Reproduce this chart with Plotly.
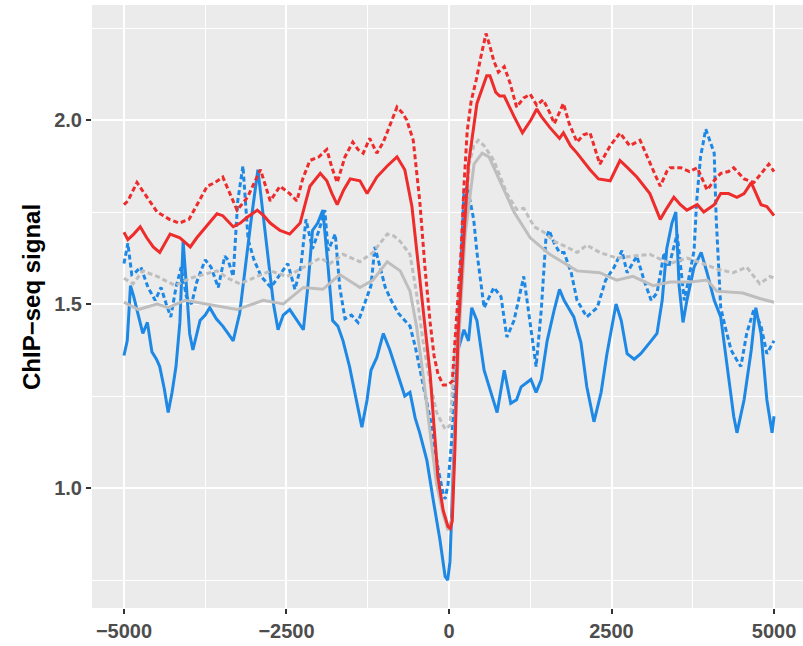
import plotly.graph_objects as go

# ---- data ----
red_dash_x = [-5000,-4940,-4800,-4650,-4490,-4300,-4150,-4000,-3850,-3720,-3600,-3480,-3370,-3260,-3100,-2900,-2750,-2600,-2450,-2340,-2250,-2140,-2000,-1880,-1800,-1720,-1600,-1480,-1400,-1320,-1220,-1110,-1010,-900,-800,-720,-650,-550,-450,-370,-290,-230,-170,-90,-20,50,120,185,230,280,340,420,500,570,630,690,760,850,940,1040,1150,1250,1350,1450,1550,1620,1760,1850,1970,2070,2170,2320,2480,2630,2780,2940,3100,3250,3350,3400,3570,3700,3820,3970,4100,4180,4300,4380,4540,4690,4850,4920,5000]
red_dash_y = [1.77,1.78,1.83,1.79,1.75,1.73,1.72,1.73,1.78,1.82,1.83,1.845,1.80,1.755,1.79,1.865,1.78,1.82,1.80,1.78,1.84,1.89,1.90,1.92,1.87,1.83,1.90,1.94,1.92,1.91,1.95,1.91,1.94,1.99,2.035,2.02,2.0,1.945,1.78,1.60,1.45,1.36,1.31,1.28,1.28,1.29,1.46,1.64,1.82,1.97,2.05,2.11,2.18,2.235,2.20,2.16,2.13,2.145,2.10,2.035,2.06,2.07,2.04,2.055,2.02,1.99,2.045,1.99,1.94,1.96,1.965,1.88,1.93,1.965,1.93,1.945,1.88,1.82,1.86,1.87,1.87,1.86,1.87,1.81,1.84,1.855,1.86,1.87,1.84,1.83,1.865,1.88,1.86]

red_solid_x = [-5000,-4940,-4850,-4750,-4650,-4550,-4450,-4290,-4140,-3980,-3880,-3780,-3570,-3480,-3320,-3210,-3110,-2950,-2850,-2750,-2600,-2450,-2290,-2200,-2140,-1980,-1880,-1800,-1720,-1620,-1520,-1370,-1260,-1110,-950,-800,-680,-570,-470,-400,-340,-290,-240,-170,-90,-15,20,50,90,140,200,250,300,430,580,630,720,780,850,1000,1130,1260,1350,1420,1550,1700,1760,1870,1970,2170,2300,2480,2630,2750,2890,3090,3250,3350,3460,3560,3660,3820,3920,4080,4180,4300,4430,4540,4650,4800,4890,5000]
red_solid_y = [1.695,1.675,1.69,1.71,1.68,1.655,1.64,1.69,1.68,1.655,1.68,1.70,1.745,1.74,1.71,1.72,1.735,1.755,1.74,1.72,1.70,1.69,1.72,1.78,1.82,1.855,1.835,1.80,1.77,1.81,1.84,1.835,1.80,1.845,1.875,1.90,1.865,1.765,1.60,1.48,1.40,1.31,1.19,1.03,0.94,0.895,0.89,0.91,1.10,1.42,1.60,1.73,1.88,2.045,2.12,2.12,2.075,2.065,2.065,2.01,1.965,2.0,2.03,2.01,1.98,1.95,1.965,1.93,1.91,1.865,1.84,1.835,1.89,1.87,1.845,1.80,1.73,1.76,1.79,1.77,1.755,1.77,1.75,1.77,1.80,1.80,1.79,1.80,1.83,1.77,1.765,1.74]

gray_dash_x = [-5000,-4860,-4710,-4490,-4210,-3980,-3780,-3570,-3400,-3220,-2950,-2750,-2490,-2240,-1980,-1830,-1630,-1370,-1170,-950,-850,-750,-600,-500,-400,-290,-190,-60,15,60,140,220,270,310,380,450,540,690,800,890,1040,1150,1310,1460,1620,1810,1970,2120,2320,2580,2830,3090,3400,3660,3910,4120,4370,4580,4780,4940,5000]
gray_dash_y = [1.57,1.555,1.59,1.575,1.55,1.57,1.58,1.59,1.57,1.555,1.575,1.59,1.575,1.60,1.625,1.61,1.635,1.615,1.64,1.69,1.685,1.67,1.635,1.53,1.40,1.285,1.205,1.16,1.17,1.285,1.465,1.645,1.765,1.88,1.93,1.945,1.93,1.89,1.84,1.80,1.757,1.76,1.71,1.695,1.67,1.655,1.64,1.66,1.64,1.625,1.63,1.635,1.61,1.625,1.61,1.595,1.585,1.60,1.555,1.575,1.57]

gray_solid_x = [-5000,-4780,-4490,-4320,-4060,-3720,-3400,-3260,-2860,-2550,-2240,-1940,-1680,-1370,-1170,-950,-750,-600,-500,-400,-290,-190,-90,-15,50,90,170,250,385,510,615,800,1000,1250,1550,1970,2320,2580,2830,3140,3400,3710,3970,4120,4520,4780,5000]
gray_solid_y = [1.505,1.485,1.50,1.49,1.51,1.50,1.49,1.485,1.51,1.50,1.545,1.54,1.58,1.545,1.565,1.615,1.59,1.535,1.44,1.31,1.15,1.01,0.93,0.885,0.92,1.15,1.465,1.69,1.88,1.91,1.90,1.83,1.75,1.68,1.635,1.59,1.585,1.565,1.575,1.55,1.56,1.56,1.565,1.535,1.53,1.515,1.505]

blue_solid_x = [-5000,-4950,-4900,-4850,-4780,-4710,-4640,-4570,-4500,-4450,-4380,-4320,-4260,-4200,-4140,-4090,-4040,-3990,-3940,-3880,-3830,-3750,-3680,-3580,-3480,-3400,-3320,-3220,-3150,-3050,-2940,-2870,-2780,-2700,-2630,-2550,-2450,-2350,-2240,-2170,-2100,-2020,-1940,-1860,-1790,-1710,-1630,-1530,-1420,-1340,-1260,-1200,-1110,-1010,-910,-830,-750,-680,-600,-520,-450,-340,-240,-140,-60,-20,15,60,100,130,230,300,350,430,540,640,740,850,950,1040,1110,1260,1340,1420,1510,1620,1700,1770,1920,2030,2120,2230,2340,2430,2570,2650,2740,2850,2950,3110,3200,3280,3350,3430,3490,3540,3600,3660,3770,3880,3970,4080,4180,4280,4380,4430,4540,4650,4720,4800,4890,4970,5000]
blue_solid_y = [1.36,1.40,1.55,1.52,1.47,1.42,1.45,1.37,1.35,1.33,1.27,1.205,1.26,1.33,1.45,1.67,1.55,1.42,1.375,1.42,1.455,1.47,1.49,1.46,1.44,1.42,1.40,1.475,1.58,1.72,1.865,1.76,1.62,1.50,1.43,1.47,1.485,1.46,1.43,1.55,1.70,1.72,1.755,1.60,1.455,1.44,1.40,1.33,1.24,1.165,1.24,1.32,1.355,1.42,1.375,1.33,1.285,1.25,1.26,1.19,1.15,1.075,0.965,0.86,0.76,0.75,0.80,1.01,1.25,1.37,1.43,1.40,1.49,1.455,1.32,1.265,1.205,1.32,1.23,1.24,1.275,1.295,1.26,1.295,1.40,1.485,1.54,1.51,1.465,1.395,1.275,1.18,1.26,1.365,1.50,1.455,1.365,1.35,1.365,1.40,1.42,1.51,1.65,1.72,1.75,1.55,1.45,1.51,1.60,1.64,1.585,1.51,1.465,1.33,1.195,1.15,1.24,1.375,1.49,1.42,1.24,1.15,1.195]

blue_dash_x = [-5000,-4940,-4880,-4830,-4740,-4630,-4520,-4430,-4350,-4280,-4200,-4120,-4040,-3960,-3880,-3750,-3660,-3550,-3450,-3400,-3320,-3250,-3170,-3090,-3000,-2890,-2740,-2580,-2480,-2370,-2280,-2200,-2100,-2000,-1910,-1860,-1750,-1680,-1600,-1500,-1400,-1300,-1200,-1140,-1060,-980,-890,-780,-680,-600,-520,-430,-350,-280,-170,-90,-60,-15,50,90,170,230,280,380,430,490,540,690,800,890,1000,1150,1280,1340,1420,1490,1540,1620,1700,1770,1880,1970,2120,2280,2410,2540,2660,2740,2890,3000,3110,3200,3310,3380,3510,3620,3700,3770,3810,3870,3950,4020,4080,4110,4150,4180,4260,4340,4420,4490,4580,4690,4800,4890,5000]
blue_dash_y = [1.61,1.665,1.58,1.585,1.60,1.545,1.51,1.545,1.50,1.465,1.545,1.60,1.52,1.50,1.56,1.62,1.60,1.545,1.63,1.62,1.575,1.78,1.875,1.675,1.62,1.575,1.545,1.585,1.61,1.54,1.60,1.73,1.65,1.70,1.755,1.645,1.69,1.545,1.46,1.47,1.45,1.50,1.55,1.655,1.60,1.545,1.51,1.475,1.455,1.44,1.385,1.31,1.24,1.18,1.055,0.985,0.97,1.01,1.15,1.33,1.555,1.80,1.82,1.73,1.64,1.565,1.49,1.545,1.52,1.41,1.455,1.575,1.40,1.33,1.485,1.675,1.70,1.665,1.64,1.64,1.585,1.51,1.465,1.49,1.565,1.60,1.645,1.585,1.63,1.565,1.51,1.53,1.64,1.60,1.69,1.51,1.58,1.645,1.78,1.90,1.975,1.94,1.91,1.735,1.60,1.49,1.43,1.375,1.35,1.33,1.42,1.485,1.44,1.365,1.40]

x_ticks = [-5000, -2500, 0, 2500, 5000]
x_tick_text = ["\u22125000", "\u22122500", "0", "2500", "5000"]
y_ticks = [1.0, 1.5, 2.0]
y_tick_text = ["1.0", "1.5", "2.0"]

RED = "#EE2C2C"
BLUE = "#1E88E5"
GRAY = "#BEBEBE"
LW = 3
DASH = "5px,3px"

fig = go.Figure()
series = [
    (blue_solid_x, blue_solid_y, BLUE, "solid"),
    (blue_dash_x, blue_dash_y, BLUE, DASH),
    (gray_solid_x, gray_solid_y, GRAY, "solid"),
    (gray_dash_x, gray_dash_y, GRAY, DASH),
    (red_solid_x, red_solid_y, RED, "solid"),
    (red_dash_x, red_dash_y, RED, DASH),
]
for xs, ys, c, d in series:
    fig.add_trace(go.Scatter(x=xs, y=ys, mode="lines",
                             line=dict(color=c, width=LW, dash=d),
                             showlegend=False, hoverinfo="skip"))

tickfont = dict(family="Liberation Sans, Arial, sans-serif", size=20, color="#4D4D4D", weight="bold")
fig.update_layout(
    width=803, height=646,
    margin=dict(l=92, r=0, t=5, b=38),
    paper_bgcolor="white",
    plot_bgcolor="#EBEBEB",
    showlegend=False,
    xaxis=dict(range=[-5492, 5446], tickmode="array", tickvals=x_ticks, ticktext=x_tick_text,
               automargin=False,
               showgrid=True, gridcolor="white", gridwidth=2.2, zeroline=False,
               ticks="outside", ticklen=5, tickwidth=1.6, tickcolor="#333333",
               tickfont=tickfont, showline=False,
               minor=dict(tickmode="array", tickvals=[-3750, -1250, 1250, 3750], showgrid=True,
                          gridcolor="white", gridwidth=1.1, ticks="")),
    yaxis=dict(range=[0.674, 2.3125], tickmode="array", tickvals=y_ticks, ticktext=y_tick_text,
               automargin=False,
               showgrid=True, gridcolor="white", gridwidth=2.2, zeroline=False,
               ticks="outside", ticklen=5, tickwidth=1.6, tickcolor="#333333",
               tickfont=tickfont, showline=False,
               minor=dict(tickmode="array", tickvals=[0.75, 1.25, 1.75, 2.25], showgrid=True,
                          gridcolor="white", gridwidth=1.1, ticks="")),
    annotations=[dict(text="ChIP\u2212seq signal", xref="paper", yref="paper",
                      x=(31 - 92) / 711, y=(608 - 297) / 603, xanchor="center", yanchor="middle",
                      textangle=-90, showarrow=False,
                      font=dict(family="Liberation Sans, Arial, sans-serif", size=24,
                                color="black", weight="bold"))],
)
fig.write_html("out.html", config={"displayModeBar": False},
               post_script="document.body.style.margin='0px';document.body.style.padding='0px';")
